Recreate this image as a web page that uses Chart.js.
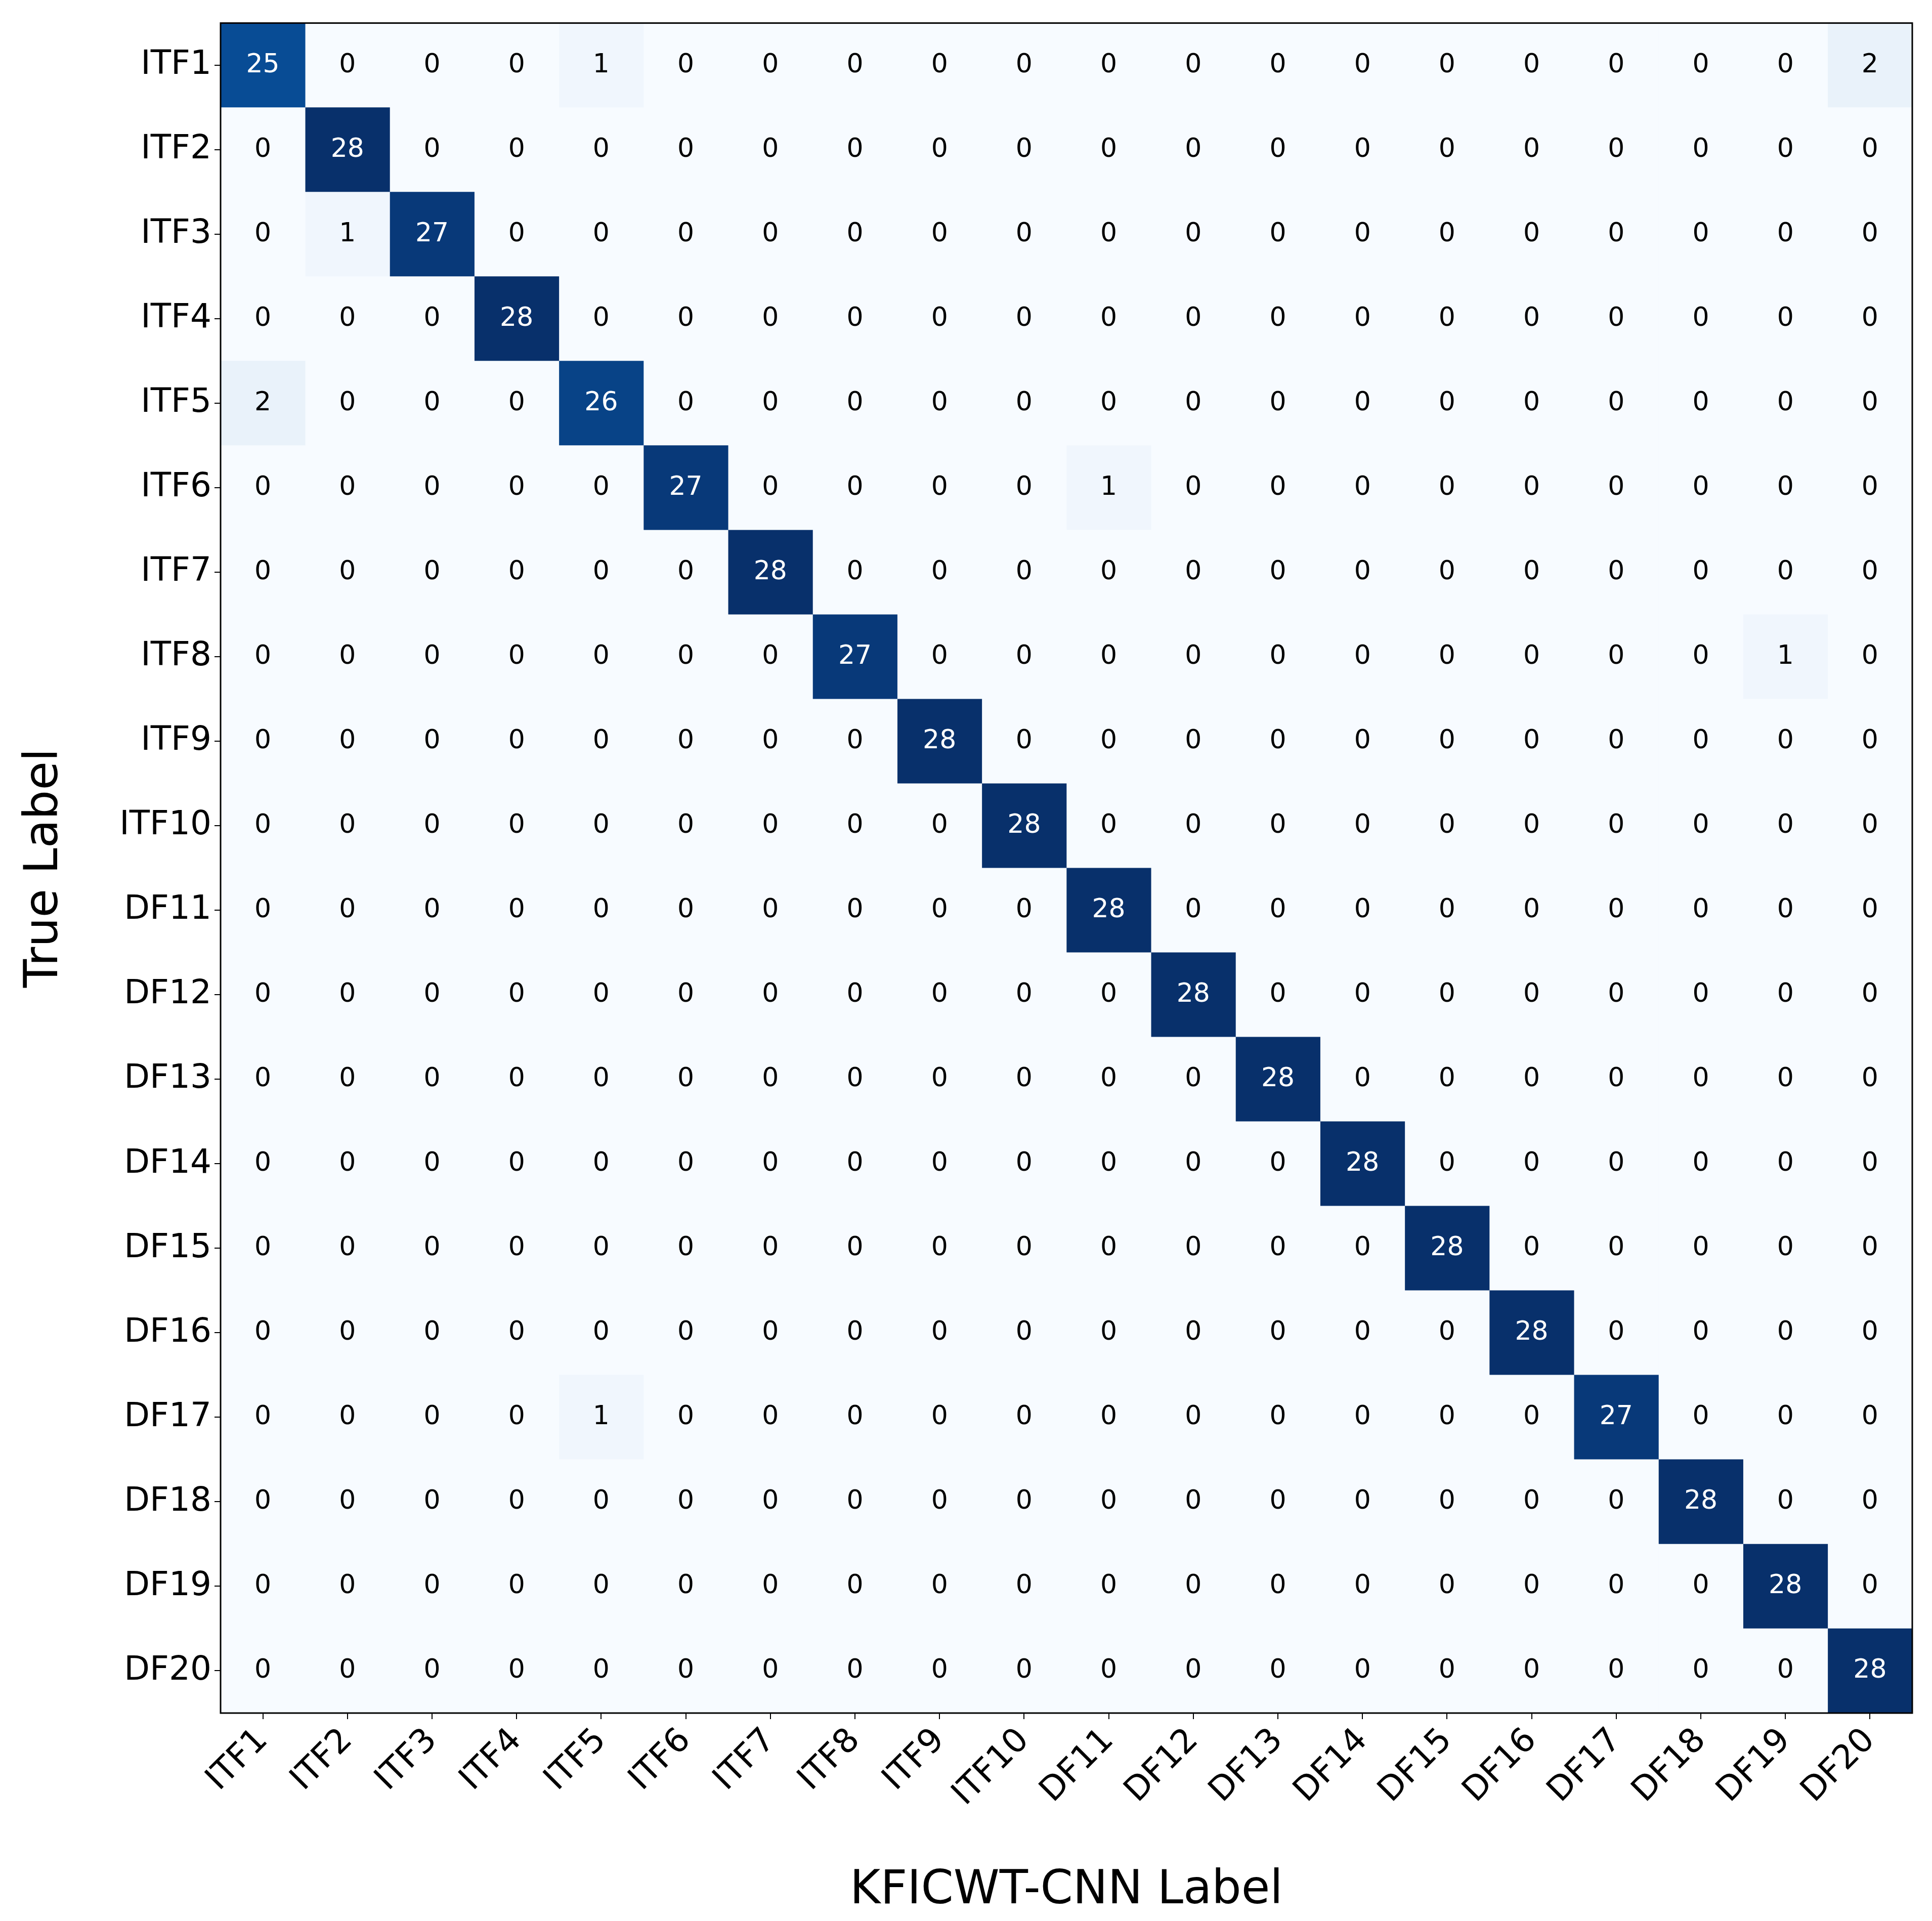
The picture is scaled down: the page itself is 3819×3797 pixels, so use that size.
<!DOCTYPE html>
<html><head><meta charset="utf-8">
<script src="https://cdn.jsdelivr.net/npm/chart.js@4/dist/chart.umd.min.js"></script>
<style>html,body{margin:0;background:#fff}</style>
</head><body>
<canvas id="c" width="3819" height="3797" style="width:3819px;height:3797px"></canvas>
<script>
// class labels (rows = true, columns = predicted)
const classLabels = ["ITF1","ITF2","ITF3","ITF4","ITF5","ITF6","ITF7","ITF8","ITF9","ITF10",
	"DF11","DF12","DF13","DF14","DF15","DF16","DF17","DF18","DF19","DF20"];

// confusion matrix counts, one row per true label
const cm = [
	[25,0,0,0,1,0,0,0,0,0,0,0,0,0,0,0,0,0,0,2],
	[0,28,0,0,0,0,0,0,0,0,0,0,0,0,0,0,0,0,0,0],
	[0,1,27,0,0,0,0,0,0,0,0,0,0,0,0,0,0,0,0,0],
	[0,0,0,28,0,0,0,0,0,0,0,0,0,0,0,0,0,0,0,0],
	[2,0,0,0,26,0,0,0,0,0,0,0,0,0,0,0,0,0,0,0],
	[0,0,0,0,0,27,0,0,0,0,1,0,0,0,0,0,0,0,0,0],
	[0,0,0,0,0,0,28,0,0,0,0,0,0,0,0,0,0,0,0,0],
	[0,0,0,0,0,0,0,27,0,0,0,0,0,0,0,0,0,0,1,0],
	[0,0,0,0,0,0,0,0,28,0,0,0,0,0,0,0,0,0,0,0],
	[0,0,0,0,0,0,0,0,0,28,0,0,0,0,0,0,0,0,0,0],
	[0,0,0,0,0,0,0,0,0,0,28,0,0,0,0,0,0,0,0,0],
	[0,0,0,0,0,0,0,0,0,0,0,28,0,0,0,0,0,0,0,0],
	[0,0,0,0,0,0,0,0,0,0,0,0,28,0,0,0,0,0,0,0],
	[0,0,0,0,0,0,0,0,0,0,0,0,0,28,0,0,0,0,0,0],
	[0,0,0,0,0,0,0,0,0,0,0,0,0,0,28,0,0,0,0,0],
	[0,0,0,0,0,0,0,0,0,0,0,0,0,0,0,28,0,0,0,0],
	[0,0,0,0,1,0,0,0,0,0,0,0,0,0,0,0,27,0,0,0],
	[0,0,0,0,0,0,0,0,0,0,0,0,0,0,0,0,0,28,0,0],
	[0,0,0,0,0,0,0,0,0,0,0,0,0,0,0,0,0,0,28,0],
	[0,0,0,0,0,0,0,0,0,0,0,0,0,0,0,0,0,0,0,28]
];

const vmax = 28;
const FONT = "'DejaVu Sans', sans-serif";

// matplotlib "Blues" colour stops
const blues = ["#f7fbff","#deebf7","#c6dbef","#9ecae1","#6baed6","#4292c6","#2171b5","#08519c","#08306b"];

function hexToRgb(h) {
	return [parseInt(h.substr(1,2),16), parseInt(h.substr(3,2),16), parseInt(h.substr(5,2),16)];
}

function bluesColor(v) {
	var t = Math.max(0, Math.min(1, v / vmax)) * (blues.length - 1);
	var i = Math.min(Math.floor(t), blues.length - 2);
	var f = t - i;
	var a = hexToRgb(blues[i]), b = hexToRgb(blues[i+1]);
	var c = a.map(function(x, k){ return Math.round(x + (b[k]-x)*f); });
	return "rgb(" + c.join(",") + ")";
}

// one floating-bar dataset per predicted column
var datasets = classLabels.map(function(lbl, j) {
	return {
		label: lbl,
		data: cm.map(function(){ return [j - 0.5, j + 0.5]; }),
		backgroundColor: cm.map(function(row){ return bluesColor(row[j]); }),
		borderWidth: 0,
		barPercentage: 1,
		categoryPercentage: 1,
		grouped: false
	};
});

// write the counts in each cell and draw the frame
const cellText = {
	id: "cellText",
	afterDatasetsDraw(chart) {
		var ctx = chart.ctx, xs = chart.scales.x, ys = chart.scales.y;
		ctx.save();
		ctx.font = "52px " + FONT;
		ctx.textAlign = "center";
		ctx.textBaseline = "middle";
		cm.forEach(function(row, i) {
			row.forEach(function(v, j) {
				ctx.fillStyle = v > vmax / 2 ? "#ffffff" : "#000000";
				ctx.fillText(String(v), xs.getPixelForValue(j), ys.getPixelForValue(i));
			});
		});
		var a = chart.chartArea;
		ctx.strokeStyle = "#000";
		ctx.lineWidth = 3;
		ctx.strokeRect(a.left, a.top, a.right - a.left, a.bottom - a.top);
		ctx.restore();
	}
};

new Chart(document.getElementById("c"), {
	type: "bar",
	data: { labels: classLabels, datasets: datasets },
	options: {
		indexAxis: "y",
		responsive: false,
		devicePixelRatio: 1,
		animation: false,
		layout: { padding: { top: 39, right: 39, left: 30, bottom: 0 } },
		plugins: { legend: { display: false }, tooltip: { enabled: false } },
		scales: {
			x: {
				type: "linear",
				min: -0.5, max: 19.5,
				afterFit: function(s) { s.height = 411; },
				afterBuildTicks: function(s) {
					s.ticks = classLabels.map(function(l, j){ return { value: j }; });
				},
				ticks: {
					callback: function(v) { return classLabels[v]; },
					maxRotation: 45, minRotation: 45,
					autoSkip: false,
					color: "#000",
					font: { family: FONT, size: 66 },
					padding: 4
				},
				grid: { drawOnChartArea: false, tickLength: 12, tickColor: "#000", lineWidth: 2 },
				border: { display: false },
				title: { display: true, text: "KFICWT-CNN Label", color: "#000",
					font: { family: FONT, size: 92 }, padding: { top: 0 } }
			},
			y: {
				afterFit: function(s) { s.width = 406; },
				ticks: { color: "#000", font: { family: FONT, size: 66 }, padding: 6, autoSkip: false },
				grid: { drawOnChartArea: false, offset: false, tickLength: 12, tickColor: "#000", lineWidth: 2 },
				border: { display: false },
				title: { display: true, text: "True Label", color: "#000",
					font: { family: FONT, size: 92 }, padding: { bottom: 0 } }
			}
		}
	},
	plugins: [cellText]
});
</script>
</body></html>
